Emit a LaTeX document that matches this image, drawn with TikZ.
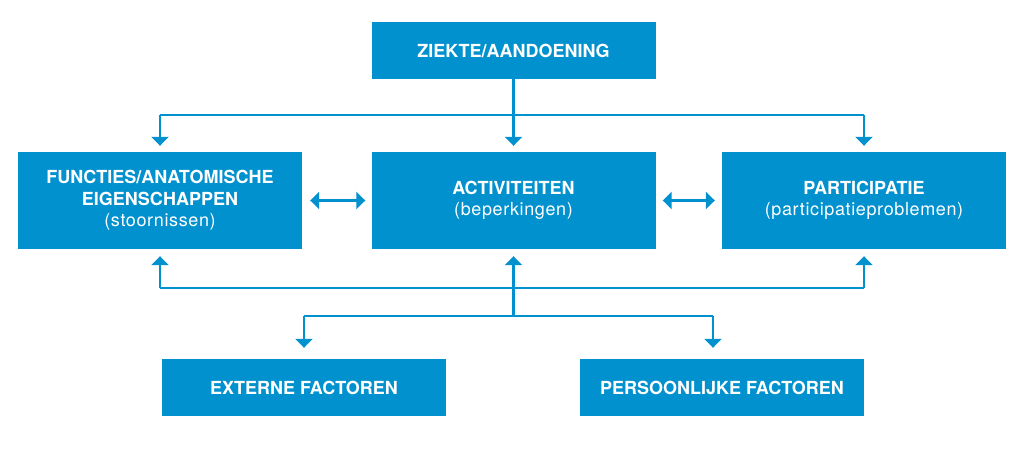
\documentclass[tikz,border=0pt]{standalone}
\usepackage{fontspec}
\setmainfont{TeX Gyre Heros}
\newfontfamily\subfont[LetterSpace=3.5]{TeX Gyre Heros}
\definecolor{icfblue}{RGB}{0,145,206}
\usetikzlibrary{arrows.meta,calc}

\begin{document}
\begin{tikzpicture}[x=1pt,y=-1pt,
    every node/.style={align=center},
    blok/.style={fill=icfblue, text=white, inner sep=0pt,
                 minimum width=284pt, font=\fontsize{18}{21.5}\selectfont\bfseries},
    pijl/.style={-{Triangle[width=17pt,length=9pt]}, icfblue, line width=2.2pt},
    tweepijl/.style={{Triangle[width=17pt,length=9pt]}-{Triangle[width=17pt,length=9pt]},
                     icfblue, line width=2.2pt}]
  \useasboundingbox (0,0) rectangle (1024,455);
  % boxes
  \node[blok, minimum height=57pt] (ziekte) at (513.5,50.5) {ZIEKTE/AANDOENING};
  \node[blok, minimum height=97pt] (functies) at (160,200.5)
       {FUNCTIES/ANATOMISCHE\\EIGENSCHAPPEN\\{\subfont\mdseries(stoornissen)}};
  \node[blok, minimum height=97pt] (activ) at (513.5,200.5)
       {ACTIVITEITEN\\{\subfont\mdseries(beperkingen)}};
  \node[blok, minimum height=97pt] (partic) at (864,200.5)
       {PARTICIPATIE\\{\subfont\mdseries(participatieproblemen)}};
  \node[blok, minimum height=57pt] (extern) at (304,387.5) {EXTERNE FACTOREN};
  \node[blok, minimum height=57pt] (persoon) at (722,387.5) {PERSOONLIJKE FACTOREN};
  % bus lines
  \coordinate (bus1) at (513.5,115);
  \coordinate (bus2) at (513.5,288);
  \coordinate (bus3) at (513.5,316);
  \coordinate (perspunt) at (713,316);
  \draw[icfblue, line width=2.2pt] (ziekte.south) -- (bus1);
  \draw[icfblue, line width=2.2pt] (bus1 -| functies.north) -- (bus1 -| partic.north);
  \foreach \doel in {functies,activ,partic}
    \draw[pijl, shorten >=6pt] (bus1 -| \doel.north) -- (\doel.north);
  \draw[tweepijl, shorten <=8pt, shorten >=6pt] (functies.east) -- (activ.west);
  \draw[tweepijl, shorten <=7pt, shorten >=7pt] (activ.east) -- (partic.west);
  % onderste verbindingen
  \draw[icfblue, line width=2.2pt] (bus2 -| functies.south) -- (bus2 -| partic.south);
  \foreach \doel in {functies,partic}
    \draw[pijl, shorten >=7pt] (bus2 -| \doel.south) -- (\doel.south);
  \draw[pijl, shorten >=7pt] (bus3) -- (activ.south);
  \draw[icfblue, line width=2.2pt] (bus3 -| extern.north) -- (perspunt);
  \draw[pijl, shorten >=11pt] (bus3 -| extern.north) -- (extern.north);
  \draw[pijl, shorten >=11pt] (perspunt) -- (perspunt |- persoon.north);
\end{tikzpicture}
\end{document}
